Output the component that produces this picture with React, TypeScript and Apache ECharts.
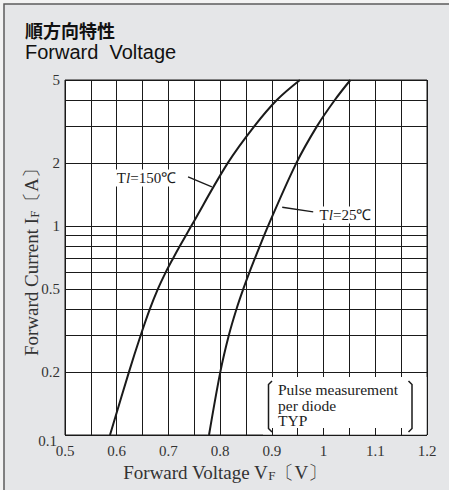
import React, { useEffect, useRef } from "react";
import * as echarts from "echarts";

// Forward current levels (A) at which each curve was read
const currentLevels = [0.1, 0.2, 0.3, 0.4, 0.5, 0.6, 0.7, 0.8, 1, 2, 3, 4, 5];
// Forward voltage (V) of each curve at those currents
const voltage150 = [0.587, 0.6236, 0.6464, 0.664, 0.6797, 0.6947, 0.7089, 0.7218, 0.7441, 0.8146, 0.8659, 0.9092, 0.9543];
const voltage25 = [0.7785, 0.8003, 0.8168, 0.8315, 0.8448, 0.8566, 0.8672, 0.8765, 0.8926, 0.9473, 0.9871, 1.0214, 1.0519];

// Horizontal grid levels and the ones that carry a label
const yGridLevels = [0.1, 0.2, 0.3, 0.4, 0.5, 0.6, 0.7, 0.8, 0.9, 1, 2, 3, 4, 5];
const yLabelLevels = [0.1, 0.2, 0.5, 1, 2, 5];

// Annotation anchors (data coordinates)
const label150 = [0.6576, 1.7];
const label25 = [1.0424, 1.13];
const arrow150 = [[0.738, 1.72], [0.784, 1.54]];
const arrow25 = [[0.98, 1.17], [0.92, 1.23]];

const SERIF = '"Liberation Serif", "Times New Roman", serif';
const SANS = '"Liberation Sans", Arial, sans-serif';
const INK = "#1a1a1a";

export default function App() {
  const ref = useRef<HTMLDivElement>(null);

  useEffect(() => {
    const chart = echarts.init(ref.current!, null, { renderer: "svg" });

    const xFmt = (v: number) => {
      const t = v * 10;
      return Math.abs(t - Math.round(t)) < 1e-6 ? String(Math.round(t) / 10) : "";
    };

    const gridLines = yGridLevels.map((v) => ({
      yAxis: v,
      label: {
        show: yLabelLevels.indexOf(v) >= 0,
        formatter: String(v),
        offset: v === 0.1 ? [-3, 6] : [0, 0],
      },
    }));

    const annotLabel = (coord: number[], temp: string) => ({
      coord,
      symbol: "circle",
      symbolSize: 1,
      itemStyle: { color: "rgba(0,0,0,0)" },
      label: {
        show: true,
        position: "inside",
        formatter: "{a|T}{b|l}{a|=" + temp + "℃}",
        backgroundColor: "#fff",
        padding: [1, 2],
        rich: {
          a: { fontFamily: SERIF, fontSize: 15, color: INK },
          b: { fontFamily: SERIF, fontSize: 15, fontStyle: "italic", color: INK },
        },
      },
    });

    const option: any = {
      animation: false,
      backgroundColor: "#f3f3f3",
      grid: {
        left: 65,
        top: 80,
        right: 22,
        bottom: 55,
        show: true,
        backgroundColor: "#ffffff",
        borderColor: INK,
        borderWidth: 1,
      },
      xAxis: [
        {
          type: "value",
          min: 0.5,
          max: 1.2,
          interval: 0.05,
          axisLine: { show: false },
          axisTick: { show: false },
          splitLine: { show: true, lineStyle: { color: INK, width: 1 } },
          axisLabel: { formatter: xFmt, color: "#333", fontFamily: SERIF, fontSize: 15, margin: 8 },
          name: "Forward Voltage V{s|F}〔V〕",
          nameLocation: "middle",
          nameGap: 26,
          nameTextStyle: {
            fontFamily: SERIF,
            fontSize: 19,
            color: "#333",
            padding: [0, 42, 0, 0],
            rich: { s: { fontFamily: SERIF, fontSize: 13, color: "#333", verticalAlign: "bottom" } },
          },
        },
        {
          type: "value",
          min: 0.5,
          max: 1.2,
          interval: 0.05,
          position: "bottom",
          z: 5,
          axisLine: { show: false },
          axisTick: { show: true, inside: true, length: 7, lineStyle: { color: INK, width: 1 } },
          axisLabel: { show: false },
          splitLine: { show: false },
        },
      ],
      yAxis: {
        type: "log",
        logBase: 10,
        min: 0.1,
        max: 5,
        axisLine: { show: false },
        axisTick: { show: false },
        axisLabel: { show: false },
        splitLine: { show: false },
        name: "Forward Current I{s|F}〔A〕",
        nameLocation: "middle",
        nameGap: 24,
        nameRotate: 90,
        nameTextStyle: {
          fontFamily: SERIF,
          fontSize: 19,
          color: "#333",
          rich: { s: { fontFamily: SERIF, fontSize: 13, color: "#333", verticalAlign: "bottom" } },
        },
      },
      series: [
        {
          name: "Tl=150℃",
          type: "line",
          xAxisIndex: 0,
          data: voltage150.map((v, i) => [v, currentLevels[i]]),
          smooth: 0.35,
          showSymbol: false,
          lineStyle: { color: INK, width: 2 },
          z: 3,
          markLine: {
            silent: true,
            symbol: ["none", "none"],
            lineStyle: { color: INK, width: 1, type: "solid" },
            label: {
              position: "start",
              distance: 5,
              fontFamily: SERIF,
              fontSize: 15,
              color: "#333",
            },
            data: gridLines,
          },
          markPoint: { silent: true, data: [annotLabel(label150, "150")] },
        },
        {
          name: "Tl=25℃",
          type: "line",
          xAxisIndex: 0,
          data: voltage25.map((v, i) => [v, currentLevels[i]]),
          smooth: 0.35,
          showSymbol: false,
          lineStyle: { color: INK, width: 2 },
          z: 3,
          markLine: {
            silent: true,
            symbol: ["none", "arrow"],
            symbolSize: [0, 10],
            lineStyle: { color: INK, width: 1.3, type: "solid" },
            label: { show: false },
            data: [
              [{ coord: arrow150[0] }, { coord: arrow150[1] }],
              [{ coord: arrow25[0] }, { coord: arrow25[1] }],
            ],
          },
          markPoint: { silent: true, data: [annotLabel(label25, "25")] },
        },
      ],
      graphic: [
        {
          type: "rect",
          z: -10,
          shape: { x: 4, y: 4, width: 470, height: 510 },
          style: { fill: "#e5e6e8", stroke: "#5c5c5c", lineWidth: 1.5 },
        },
        {
          type: "text",
          z: 2,
          x: 25,
          y: 21,
          style: { text: "順方向特性", font: 'bold 18px "Noto Sans CJK JP"', fill: "#111" },
        },
        {
          type: "text",
          z: 2,
          x: 25,
          y: 42,
          style: { text: "Forward  Voltage", font: "20px " + SANS, fill: "#111" },
        },
        {
          type: "rect",
          z: 1,
          shape: { x: 263, y: 377, width: 163.5, height: 57.5 },
          style: { fill: "#ffffff" },
        },
        {
          type: "polyline",
          z: 2,
          shape: { points: [[272, 381], [268.5, 384.5], [268.5, 428.5], [272, 432]] },
          style: { stroke: INK, lineWidth: 1.5, fill: "none" },
        },
        {
          type: "polyline",
          z: 2,
          shape: { points: [[408.5, 381], [412, 384.5], [412, 428.5], [408.5, 432]] },
          style: { stroke: INK, lineWidth: 1.5, fill: "none" },
        },
        {
          type: "text",
          z: 2,
          x: 278,
          y: 382,
          style: {
            text: "Pulse measurement\nper diode\nTYP",
            font: "15.5px " + SERIF,
            lineHeight: 15.5,
            fill: "#222",
          },
        },
      ],
    };

    chart.setOption(option);
    return () => chart.dispose();
  }, []);

  return (
    <div
      ref={ref}
      style={{ position: "absolute", left: 0, top: 0, width: 449, height: 490 }}
    />
  );
}
